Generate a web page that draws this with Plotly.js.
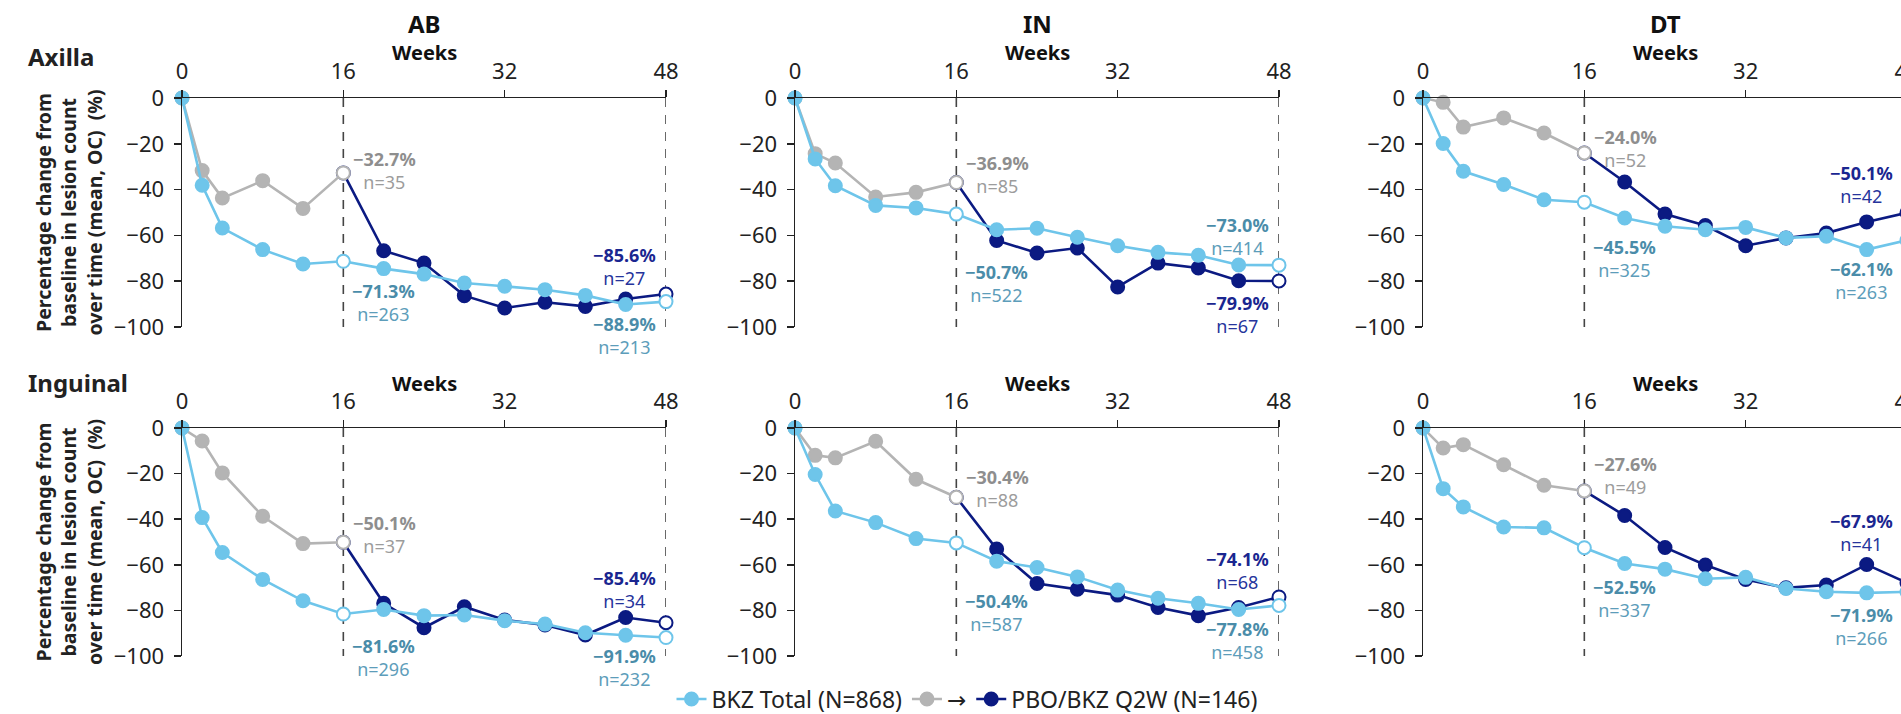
<!DOCTYPE html>
<html>
<head>
<meta charset="utf-8">
<script src="https://cdn.plot.ly/plotly-3.0.1.min.js"></script>
<style>
  html, body { margin: 0; padding: 0; overflow: hidden; background: #fff; }
  #chart { width: 1960px; height: 714px; }
</style>
</head>
<body>
<div id="chart"></div>
<script>
// ---------------- DATA ----------------
const WEEKS = [0, 2, 4, 8, 12, 16, 20, 24, 28, 32, 36, 40, 44, 48];
const PBO_WEEKS = [0, 2, 4, 8, 12, 16];
const SWITCH_WEEKS = [20, 24, 28, 32, 36, 40, 44, 48];
const X_TICKS = [0, 16, 32, 48];
const Y_TICKS = [0, -20, -40, -60, -80, -100];
const REF_WEEKS = [16, 48];

const REGIONS = ["Axilla", "Inguinal"];
const LESIONS = ["AB", "IN", "DT"];

const SERIES_NAMES = ["BKZ Total (N=868)", "\u2192", "PBO/BKZ Q2W (N=146)"];

// Axilla
const AX_AB_BKZ = [0, -38.1, -56.8, -66.2, -72.5, -71.3, -74.5, -76.9, -80.8, -82.2, -83.7, -86.2, -90.2, -88.9];
const AX_AB_PBO = [0, -31.7, -43.7, -36.1, -48.2, -32.7];
const AX_AB_SW  = [-66.7, -72.1, -86.3, -91.7, -89.2, -91.0, -87.8, -85.6];
const AX_AB_N   = [35, 263, 27, 213];   // PBO wk16, BKZ wk16, switch wk48, BKZ wk48

const AX_IN_BKZ = [0, -26.6, -38.3, -46.9, -48.0, -50.7, -57.5, -56.9, -60.8, -64.5, -67.4, -68.7, -72.9, -73.0];
const AX_IN_PBO = [0, -24.3, -28.4, -43.2, -41.2, -36.9];
const AX_IN_SW  = [-62.2, -67.7, -65.5, -82.5, -72.1, -74.2, -79.8, -79.9];
const AX_IN_N   = [85, 522, 67, 414];

const AX_DT_BKZ = [0, -19.9, -32.0, -37.8, -44.4, -45.5, -52.4, -56.0, -57.5, -56.5, -61.1, -60.4, -66.2, -62.1];
const AX_DT_PBO = [0, -1.9, -12.7, -8.7, -15.3, -24.0];
const AX_DT_SW  = [-36.7, -50.7, -55.7, -64.5, -61.1, -59.0, -54.1, -50.1];
const AX_DT_N   = [52, 325, 42, 263];

// Inguinal
const IG_AB_BKZ = [0, -39.3, -54.6, -66.4, -75.8, -81.6, -79.6, -82.3, -82.0, -84.5, -86.0, -89.8, -90.9, -91.9];
const IG_AB_PBO = [0, -5.7, -19.7, -38.7, -50.7, -50.1];
const IG_AB_SW  = [-76.9, -87.6, -78.4, -84.2, -86.4, -90.8, -83.1, -85.4];
const IG_AB_N   = [37, 296, 34, 232];

const IG_IN_BKZ = [0, -20.4, -36.4, -41.5, -48.5, -50.4, -58.4, -61.2, -65.3, -71.1, -74.7, -76.9, -79.6, -77.8];
const IG_IN_PBO = [0, -12.0, -13.1, -5.8, -22.5, -30.4];
const IG_IN_SW  = [-53.1, -68.2, -70.7, -73.3, -78.7, -82.3, -78.7, -74.1];
const IG_IN_N   = [88, 587, 68, 458];

const IG_DT_BKZ = [0, -26.6, -34.6, -43.4, -43.8, -52.5, -59.4, -61.9, -66.1, -65.5, -70.4, -71.8, -72.3, -71.9];
const IG_DT_PBO = [0, -8.8, -7.3, -16.1, -25.1, -27.6];
const IG_DT_SW  = [-38.4, -52.4, -60.1, -66.4, -70.1, -68.9, -59.9, -67.9];
const IG_DT_N   = [49, 337, 41, 266];

// ---------------- STYLE / LAYOUT CONFIG ----------------
const C_BKZ = "#6ec5ea", C_PBO = "#b4b4b4", C_SW = "#0b1a82";
const T_BKZ = "#4a8ca9", T_PBO = "#8e8e8e", T_SW = "#1a2690";
const N_BKZ = "#5d9dba", N_PBO = "#9c9c9c", N_SW = "#26349c";
const FONT = "Noto Sans, Open Sans, DejaVu Sans, sans-serif";
const AXC = "#222222";

const W = 1960, H = 714;
const COL_PX = [[182, 666], [795, 1279], [1423, 1907]];
const ROW_PX = [[98, 327], [428, 656]];
const END_LABEL_XSHIFT = [-8, -8, -12];
// label y-shifts (px) per panel: [PBO wk16, BKZ wk16, switch wk48, BKZ wk48]
const LABEL_SHIFT = [
  [[2, -41, 28, -34], [8, -69, -34, 29], [4, -56, 28, -40]],
  [[8, -43, 33, -30], [9, -70, 26, -35], [15, -51, 50, -35]]
];

const PANELS = [
  [[AX_AB_BKZ, AX_AB_PBO, AX_AB_SW, AX_AB_N], [AX_IN_BKZ, AX_IN_PBO, AX_IN_SW, AX_IN_N], [AX_DT_BKZ, AX_DT_PBO, AX_DT_SW, AX_DT_N]],
  [[IG_AB_BKZ, IG_AB_PBO, IG_AB_SW, IG_AB_N], [IG_IN_BKZ, IG_IN_PBO, IG_IN_SW, IG_IN_N], [IG_DT_BKZ, IG_DT_PBO, IG_DT_SW, IG_DT_N]]
];

function minus(v) { return (v < 0 ? "\u2212" : "") + Math.abs(v); }
function fmt(v) { return (v < 0 ? "\u2212" : "") + Math.abs(v).toFixed(1) + "%"; }

const traces = [];
const layout = {
  width: W, height: H,
  margin: {l: 0, r: 0, t: 0, b: 0, autoexpand: false},
  paper_bgcolor: "#fff", plot_bgcolor: "rgba(0,0,0,0)",
  font: {family: FONT, color: AXC},
  showlegend: true,
  legend: {
    orientation: "h", x: 967 / W, xanchor: "center", y: (H - 699) / H, yanchor: "middle",
    font: {family: FONT, size: 23, color: AXC}, bgcolor: "rgba(0,0,0,0)", itemclick: false, itemdoubleclick: false
  },
  annotations: [], shapes: []
};

for (let r = 0; r < 2; r++) {
  for (let c = 0; c < 3; c++) {
    const idx = r * 3 + c + 1;
    const xa = "x" + (idx === 1 ? "" : idx), ya = "y" + (idx === 1 ? "" : idx);
    const xk = "xaxis" + (idx === 1 ? "" : idx), yk = "yaxis" + (idx === 1 ? "" : idx);
    const [bkz, pbo, sw, nn] = PANELS[r][c];
    const leg = (r === 0 && c === 0);

    layout[xk] = {
      domain: [COL_PX[c][0] / W, COL_PX[c][1] / W], anchor: ya, side: "top",
      range: [0, 48], tickvals: X_TICKS, ticks: "outside", ticklen: 7, tickwidth: 1.5, tickcolor: AXC,
      showline: true, linecolor: AXC, linewidth: 1.5, showgrid: false, zeroline: false,
      tickfont: {family: FONT, size: 22, color: AXC}, ticklabelstandoff: 2, fixedrange: true
    };
    layout[yk] = {
      domain: [(H - ROW_PX[r][1]) / H, (H - ROW_PX[r][0]) / H], anchor: xa,
      range: [-100, 0], tickvals: Y_TICKS, ticktext: Y_TICKS.map(minus),
      ticks: "outside", ticklen: 7, tickwidth: 1.5, tickcolor: AXC,
      showline: true, linecolor: AXC, linewidth: 1.5, showgrid: false, zeroline: false,
      tickfont: {family: FONT, size: 22, color: AXC}, ticklabelstandoff: 5, fixedrange: true
    };
    if (c === 0) {
      layout[yk].title = {
        text: "<b>Percentage change from<br>baseline in lesion count<br>over time (mean, OC)  (%)</b>",
        font: {family: FONT, size: 19.5, color: AXC}, standoff: 6
      };
    }

    // reference dashed lines
    REF_WEEKS.forEach(w => layout.shapes.push({
      type: "line", xref: xa, yref: ya, x0: w, x1: w, y0: 0, y1: -100,
      line: {color: "#444", width: 1.6, dash: "9px,8px"}, layer: "below"
    }));

    // switch series (navy) drawn first, starting from last PBO point
    const swX = [PBO_WEEKS[PBO_WEEKS.length - 1]].concat(SWITCH_WEEKS);
    const swY = [pbo[pbo.length - 1]].concat(sw);
    traces.push({
      type: "scatter", mode: "lines+markers", x: swX, y: swY, xaxis: xa, yaxis: ya,
      name: SERIES_NAMES[2], showlegend: leg, legendrank: 3, cliponaxis: false, hoverinfo: "skip",
      line: {color: C_SW, width: 2.6},
      marker: {size: 13, color: swX.map((w, i) => i === swX.length - 1 ? "#fff" : C_SW), line: {color: C_SW, width: 2}}
    });
    // placebo (gray)
    traces.push({
      type: "scatter", mode: "lines+markers", x: PBO_WEEKS, y: pbo, xaxis: xa, yaxis: ya,
      name: SERIES_NAMES[1], showlegend: leg, legendrank: 2, cliponaxis: false, hoverinfo: "skip",
      line: {color: C_PBO, width: 2.6},
      marker: {size: 13, color: PBO_WEEKS.map(w => w === 16 ? "#fff" : C_PBO), line: {color: C_PBO, width: 2}}
    });
    // BKZ total (light blue)
    traces.push({
      type: "scatter", mode: "lines+markers", x: WEEKS, y: bkz, xaxis: xa, yaxis: ya,
      name: SERIES_NAMES[0], showlegend: leg, legendrank: 1, cliponaxis: false, hoverinfo: "skip",
      line: {color: C_BKZ, width: 2.6},
      marker: {size: 13, color: WEEKS.map(w => (w === 16 || w === 48) ? "#fff" : C_BKZ), line: {color: C_BKZ, width: 2}}
    });

    // value labels (bold percentage over n, centred block)
    const sh = LABEL_SHIFT[r][c];
    const lab = (x, y, n, col, ncol, anchor, xs, ys) => layout.annotations.push({
      xref: xa, yref: ya, x: x, y: y, xanchor: anchor, yanchor: "middle", xshift: xs, yshift: ys,
      showarrow: false, align: "center",
      text: "<b>" + fmt(y) + "</b><br><span style='color:" + ncol + "'>n=" + n + "</span>",
      font: {family: FONT, size: 18, color: col}
    });
    const ex = END_LABEL_XSHIFT[c];
    lab(16, pbo[pbo.length - 1], nn[0], T_PBO, N_PBO, "left", 8, sh[0]);
    lab(16, bkz[WEEKS.indexOf(16)], nn[1], T_BKZ, N_BKZ, "left", 7, sh[1]);
    lab(48, sw[sw.length - 1], nn[2], T_SW, N_SW, "right", ex, sh[2]);
    lab(48, bkz[bkz.length - 1], nn[3], T_BKZ, N_BKZ, "right", ex, sh[3]);

    // Weeks
    layout.annotations.push({
      xref: xa, x: 24, yref: "paper", y: (H - (r === 0 ? 53 : 383)) / H, yanchor: "middle",
      showarrow: false, text: "<b>Weeks</b>", font: {family: FONT, size: 20, color: "#111"}
    });
    if (r === 0) {
      layout.annotations.push({
        xref: xa, x: 24, yref: "paper", y: (H - 24) / H, yanchor: "middle",
        showarrow: false, text: "<b>" + LESIONS[c] + "</b>", font: {family: FONT, size: 24, color: "#111"}
      });
    }
  }
  layout.annotations.push({
    xref: "paper", x: 26 / W, xanchor: "left", yref: "paper", y: (H - (r === 0 ? 56 : 382)) / H, yanchor: "middle",
    showarrow: false, text: "<b>" + REGIONS[r] + "</b>", font: {family: FONT, size: 24, color: "#222"}
  });
}

Plotly.newPlot("chart", traces, layout, {displayModeBar: false, staticPlot: true});
</script>
</body>
</html>
